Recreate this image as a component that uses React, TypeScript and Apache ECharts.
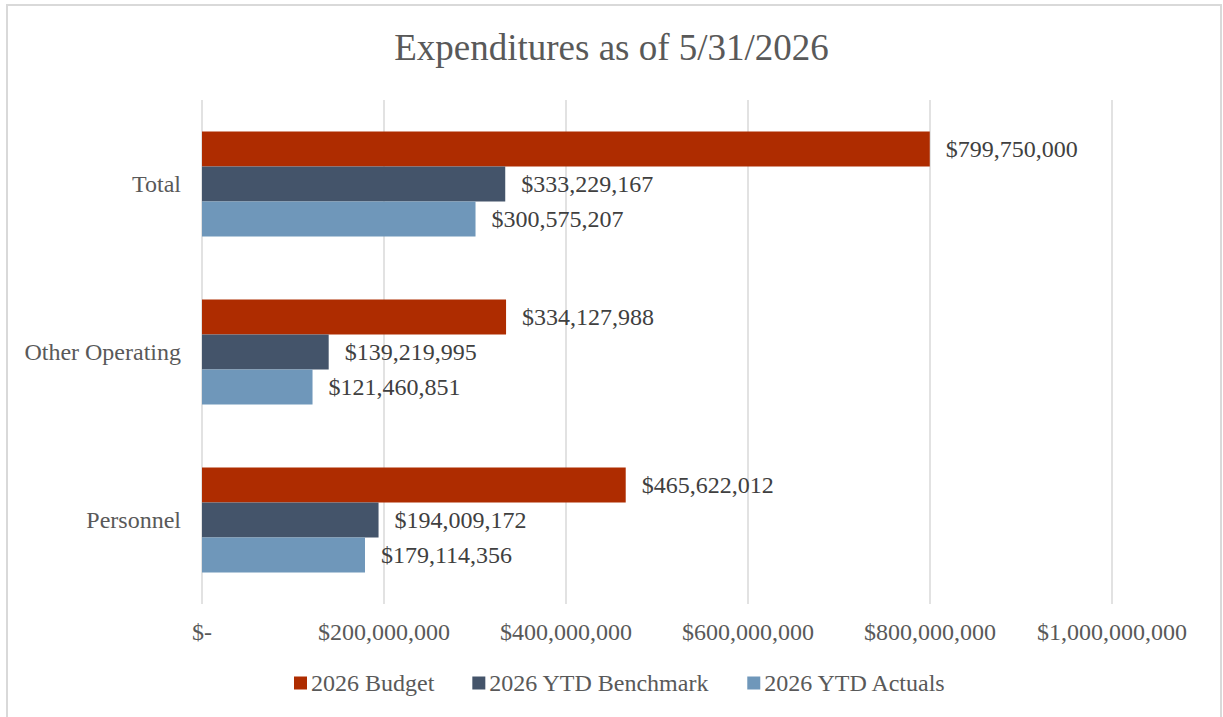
import React, { useEffect, useRef } from "react";
import * as echarts from "echarts";

const categories = ["Personnel", "Other Operating", "Total"];
const budget = [465622012, 334127988, 799750000];
const benchmark = [194009172, 139219995, 333229167];
const actuals = [179114356, 121460851, 300575207];
const xTicks = { min: 0, max: 1000000000, interval: 200000000 };
const legendOrder = ["2026 Budget", "2026 YTD Benchmark", "2026 YTD Actuals"];

const FONT = "'Liberation Serif', 'Times New Roman', serif";
const money = (v: number) => (v === 0 ? "$-" : "$" + v.toLocaleString("en-US"));

export default function App() {
  const ref = useRef<HTMLDivElement>(null);
  useEffect(() => {
    if (!ref.current) return;
    const chart = echarts.init(ref.current, null, { renderer: "svg" });
    const label = {
      show: true,
      position: "right" as const,
      distance: 16,
      color: "#404040",
      fontFamily: FONT,
      fontSize: 24,
      formatter: (p: any) => money(p.value),
    };
    const mk = (name: string, data: number[], color: string) => ({
      name,
      type: "bar" as const,
      data,
      barWidth: 35,
      barGap: "0%",
      itemStyle: { color },
      label,
    });
    chart.setOption({
      animation: false,
      textStyle: { fontFamily: FONT },
      title: {
        text: "Expenditures as of 5/31/2026",
        left: "center",
        top: 24,
        textStyle: { fontFamily: FONT, fontSize: 37, fontWeight: "normal", color: "#595959" },
      },
      graphic: [
        {
          type: "rect",
          shape: { x: 7, y: 5, width: 1214, height: 730 },
          style: { fill: "none", stroke: "#d9d9d9", lineWidth: 2 },
          silent: true,
        },
      ],
      legend: {
        data: legendOrder,
        bottom: 17,
        left: 289,
        itemWidth: 13,
        itemHeight: 13,
        itemGap: 38,
        icon: "rect",
        textStyle: { fontFamily: FONT, fontSize: 24, color: "#595959", padding: [0, 0, 0, -1] },
      },
      grid: { left: 202, right: 111, top: 100, bottom: 113, containLabel: false },
      xAxis: {
        type: "value",
        min: xTicks.min,
        max: xTicks.max,
        interval: xTicks.interval,
        axisLine: { show: false },
        axisTick: { show: false },
        splitLine: { lineStyle: { color: "#d9d9d9", width: 1.5 } },
        axisLabel: {
          formatter: (v: number) => money(v),
          color: "#595959",
          fontFamily: FONT,
          fontSize: 24,
          margin: 16,
        },
      },
      yAxis: {
        type: "category",
        data: categories,
        axisLine: { show: false },
        axisTick: { show: false },
        axisLabel: { color: "#595959", fontFamily: FONT, fontSize: 24, margin: 21 },
      },
      series: [
        mk("2026 Budget", budget, "#AE2C00"),
        mk("2026 YTD Benchmark", benchmark, "#44546A"),
        mk("2026 YTD Actuals", actuals, "#6F97BA"),
      ],
    });
    return () => chart.dispose();
  }, []);
  return (
    <div
      ref={ref}
      style={{ position: "fixed", left: 0, top: 0, width: 1223, height: 717, background: "#fff" }}
    />
  );
}
